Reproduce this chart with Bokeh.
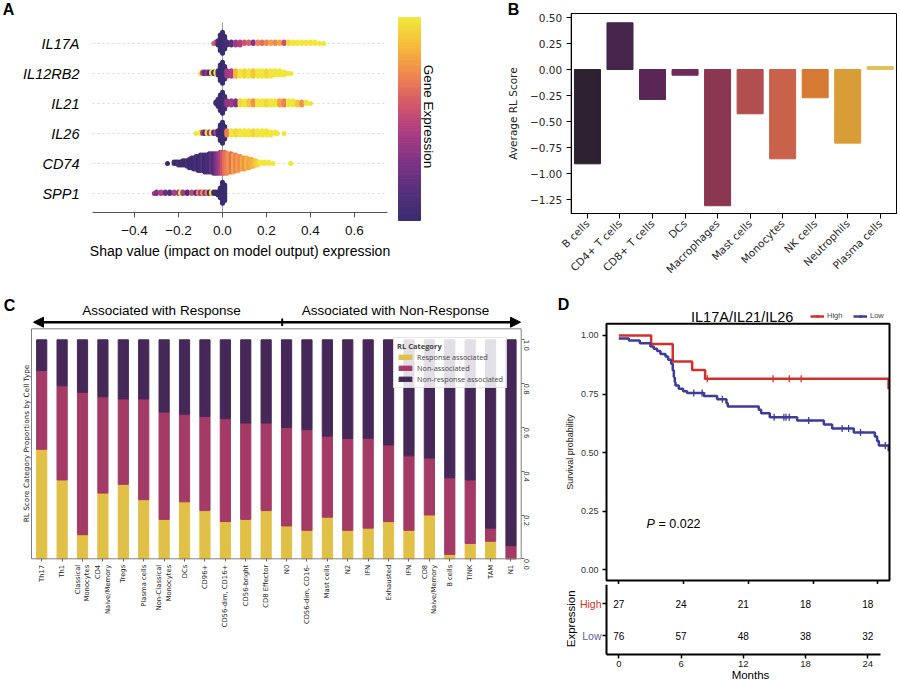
import math
from bokeh.plotting import figure
from bokeh.models import (FixedTicker, LinearAxis, Label, Arrow, NormalHead,
                          Legend, LegendItem, ColumnDataSource, Range1d, LinearColorMapper)
from bokeh.layouts import row, column
from bokeh.embed import file_html
from bokeh.resources import INLINE
from bokeh.core.properties import value

HELV = "Liberation Sans"
DJV = "DejaVu Sans"
SANS2 = "Open Sans"

# ================= Panel A data (SHAP beeswarm) =================
genes = ["IL17A", "IL12RB2", "IL21", "IL26", "CD74", "SPP1"]
shap_ticks = [-0.4, -0.2, 0.0, 0.2, 0.4, 0.6]
shap_tick_labels = ["\u22120.4", "\u22120.2", "0.0", "0.2", "0.4", "0.6"]

il17a_shap = [-0.04, -0.03, -0.02, -0.01, 0.00, 0.01, 0.02, 0.04, 0.06, 0.08, 0.10, 0.12, 0.14, 0.16, 0.18,
              0.20, 0.22, 0.24, 0.26, 0.28, 0.30, 0.32, 0.34, 0.36, 0.38, 0.40, 0.42, 0.44, 0.46]
il17a_count = [1, 2, 4, 12, 16, 10, 3, 3, 3, 3, 2, 2, 2, 2, 2, 2, 2, 2, 2, 2, 2, 2, 2, 2, 2, 2, 2, 1, 1]
il17a_expr = [0.6, 0.55, 0.05, 0.0, 0.0, 0.02, 0.08, 0.15, 0.4, 0.45, 0.55, 0.6, 0.3, 0.7, 0.65,
              0.7, 0.78, 0.72, 0.8, 0.55, 0.95, 1.0, 1.0, 1.0, 1.0, 1.0, 1.0, 1.0, 1.0]

il12rb2_shap = [-0.10, -0.09, -0.08, -0.07, -0.06, -0.05, -0.04, -0.03, -0.02, -0.01, 0.00, 0.01,
                0.02, 0.04, 0.06, 0.08, 0.10, 0.12, 0.14, 0.16, 0.18, 0.20, 0.22, 0.24, 0.26, 0.28, 0.295, 0.31]
il12rb2_count = [1, 2, 2, 2, 2, 2, 2, 2, 4, 12, 16, 10,
                 5, 5, 5, 5, 5, 5, 5, 5, 5, 5, 5, 4, 4, 3, 1, 1]
il12rb2_expr = [1.0, 0.45, 0.1, 0.4, 0.05, 0.95, 0.1, 1.0, 0.05, 0.0, 0.0, 0.02,
                0.4, 0.45, 0.85, 1.0, 0.95, 1.0, 0.9, 1.0, 1.0, 0.95, 1.0, 1.0, 1.0, 1.0, 1.0, 1.0]

il21_shap = [-0.03, -0.02, -0.01, 0.00, 0.01, 0.02, 0.04, 0.06, 0.08, 0.10, 0.12, 0.14, 0.16, 0.18,
             0.20, 0.22, 0.24, 0.26, 0.28, 0.30, 0.32, 0.34, 0.36, 0.38, 0.40]
il21_count = [2, 6, 12, 16, 10, 4, 4, 4, 4, 4, 4, 4, 4, 4, 4, 4, 4, 4, 4, 4, 4, 3, 3, 2, 1]
il21_expr = [0.05, 0.0, 0.0, 0.0, 0.05, 0.35, 0.4, 0.3, 0.95, 1.0, 0.9, 0.75, 1.0, 1.0,
             0.95, 1.0, 1.0, 0.8, 0.7, 1.0, 1.0, 0.9, 0.75, 1.0, 1.0]

il26_shap = [-0.12, -0.10, -0.09, -0.08, -0.07, -0.06, -0.05, -0.04, -0.03, -0.02, -0.01, 0.00, 0.01,
             0.02, 0.04, 0.06, 0.08, 0.10, 0.12, 0.14, 0.16, 0.18, 0.20, 0.22, 0.24, 0.25, 0.28]
il26_count = [1, 2, 2, 2, 2, 2, 2, 2, 2, 4, 12, 16, 10,
              4, 4, 4, 4, 4, 4, 4, 4, 4, 4, 3, 2, 1, 1]
il26_expr = [1.0, 1.0, 0.45, 0.1, 1.0, 0.4, 1.0, 0.1, 0.45, 0.05, 0.0, 0.0, 0.02,
             0.7, 1.0, 0.95, 1.0, 1.0, 1.0, 0.95, 1.0, 1.0, 1.0, 1.0, 1.0, 1.0, 1.0]

cd74_shap = [-0.25, -0.22, -0.21, -0.20, -0.19, -0.18, -0.17, -0.16, -0.15, -0.14, -0.13, -0.12, -0.11,
             -0.10, -0.09, -0.08, -0.07, -0.06, -0.05, -0.04, -0.03, -0.02, -0.01, 0.00, 0.01, 0.02,
             0.03, 0.04, 0.05, 0.06, 0.07, 0.08, 0.09, 0.10, 0.11, 0.12, 0.13, 0.14, 0.15, 0.16, 0.17,
             0.19, 0.21, 0.23, 0.31]
cd74_count = [1, 2, 2, 3, 3, 4, 4, 5, 7, 8, 9, 10, 11, 12, 12, 13, 13, 14, 14, 15, 15, 15, 16,
              16, 16, 15, 14, 14, 13, 12, 11, 10, 9, 9, 8, 7, 6, 5, 4, 3, 2, 2, 2, 1, 1]
cd74_expr = [0.0, 0.05, 0.0, 0.1, 0.0, 0.05, 0.0, 0.1, 0.0, 0.05, 0.0, 0.1, 0.0, 0.05, 0.15, 0.0,
             0.1, 0.05, 0.2, 0.1, 0.25, 0.35, 0.45, 0.55, 0.65, 0.7, 0.75, 0.65, 0.8, 0.7, 0.78,
             0.72, 0.82, 0.75, 0.85, 0.8, 0.82, 0.85, 0.9, 0.95, 1.0, 1.0, 1.0, 1.0, 1.0]

spp1_shap = [-0.31, -0.30, -0.28, -0.26, -0.24, -0.22, -0.20, -0.19, -0.18, -0.16, -0.14, -0.12, -0.11,
             -0.10, -0.09, -0.08, -0.07, -0.06, -0.05, -0.04, -0.03, -0.02, -0.01, 0.00, 0.01]
spp1_count = [1, 2, 2, 2, 2, 2, 2, 2, 2, 2, 2, 2, 2, 2, 2, 2, 2, 2, 2, 2, 2, 3, 8, 16, 12]
spp1_expr = [0.4, 0.3, 0.45, 0.2, 0.1, 0.45, 0.35, 1.0, 0.4, 0.1, 0.5, 0.1, 0.7, 0.4, 0.75,
             0.3, 0.7, 0.1, 1.0, 0.05, 0.0, 0.0, 0.0, 0.0, 0.0]

# ================= Panel B data =================
b_cells = ["B cells", "CD4+ T cells", "CD8+ T cells", "DCs", "Macrophages", "Mast cells",
           "Monocytes", "NK cells", "Neutrophils", "Plasma cells"]
b_scores = [-0.907, 0.449, -0.288, -0.055, -1.31, -0.426, -0.859, -0.272, -0.708, 0.029]
b_colors = ["#2e2131", "#44264b", "#5a2655", "#6e2a5c", "#8c3752", "#b14f50",
            "#c8624a", "#d67a33", "#d99d37", "#dcc45b"]
b_ticks = [0.5, 0.25, 0.0, -0.25, -0.5, -0.75, -1.0, -1.25]
b_tick_labels = ["0.50", "0.25", "0.00", "\u22120.25", "\u22120.50", "\u22120.75", "\u22121.00", "\u22121.25"]

# ================= Panel C data =================
c_labels = ["Th17", "Th1", "Classical\nMonocytes", "CD4\nNaive/Memory", "Tregs", "Plasma cells",
            "Non-Classical\nMonocytes", "DCs", "CD96+", "CD56-dim, CD16+", "CD56-bright",
            "CD8 Effector", "N0", "CD56-dim, CD16-", "Mast cells", "N2", "IFN", "Exhausted", "IFN",
            "CD8\nNaive/Memory", "B cells", "TINK", "TAM", "N1"]
c_response = [0.50, 0.36, 0.11, 0.30, 0.34, 0.27, 0.18, 0.26, 0.22, 0.17, 0.18, 0.22,
              0.15, 0.13, 0.19, 0.13, 0.14, 0.17, 0.13, 0.20, 0.02, 0.07, 0.08, 0.00]
c_nonassoc = [0.36, 0.43, 0.65, 0.44, 0.39, 0.46, 0.49, 0.40, 0.43, 0.47, 0.44, 0.40,
              0.45, 0.46, 0.37, 0.42, 0.41, 0.35, 0.34, 0.26, 0.35, 0.29, 0.06, 0.06]
c_nonresp = [0.14, 0.21, 0.24, 0.26, 0.27, 0.27, 0.33, 0.34, 0.35, 0.36, 0.38, 0.38,
             0.40, 0.41, 0.44, 0.45, 0.45, 0.48, 0.53, 0.54, 0.63, 0.64, 0.86, 0.94]
c_categories = ["Response associated", "Non-associated", "Non-response associated"]
c_colors = ["#e0c046", "#a43a66", "#452858"]
c_ticks = [0.0, 0.2, 0.4, 0.6, 0.8, 1.0]
c_tick_labels = ["0.0", "0.2", "0.4", "0.6", "0.8", "1.0"]

# ================= Panel D data =================
high_t = [0.0, 3.0, 5.0, 6.8, 8.0, 25.0]
high_s = [1.0, 0.963, 0.889, 0.852, 0.815, 0.770]
high_cens_t = [8.2, 14.3, 15.8, 16.9]
high_cens_s = [0.815, 0.815, 0.815, 0.815]
low_t = [0.0, 0.93, 1.95, 2.93, 3.24, 3.55, 3.86, 4.33, 4.57, 4.85, 5.0, 5.1, 5.19, 5.25, 5.56, 5.96,
         6.33, 7.88, 9.11, 9.98, 10.1, 12.97, 13.19, 13.99, 16.53, 19.0, 19.77, 21.78, 23.73, 23.94,
         24.1, 25.02]
low_s = [0.987, 0.978, 0.967, 0.953, 0.943, 0.933, 0.921, 0.910, 0.896, 0.879, 0.851, 0.822, 0.801,
         0.786, 0.772, 0.762, 0.754, 0.742, 0.728, 0.711, 0.697, 0.683, 0.668, 0.651, 0.637, 0.620,
         0.603, 0.586, 0.569, 0.550, 0.530, 0.506]
low_cens_t = [6.95, 7.72, 9.6, 14.4, 15.3, 15.5, 15.8, 17.6, 20.7, 21.3, 22.4, 24.7]
low_cens_s = [0.754, 0.754, 0.728, 0.651, 0.651, 0.651, 0.651, 0.637, 0.603, 0.603, 0.586, 0.530]
surv_ticks = [0.0, 0.25, 0.5, 0.75, 1.0]
surv_tick_labels = ["0.00", "0.25", "0.50", "0.75", "1.00"]
risk_months = [0, 6, 12, 18, 24]
risk_high = [27, 24, 21, 18, 18]
risk_low = [76, 57, 48, 38, 32]
p_value_text = "= 0.022"

RED = "#d2302c"
BLUE = "#3e3c98"


# ---------------- helpers ----------------
def hex2rgb(h):
    return tuple(int(h[i:i + 2], 16) for i in (1, 3, 5))


def make_palette(anchors, n=256):
    out = []
    for i in range(n):
        t = i / (n - 1) * (len(anchors) - 1)
        k = min(int(t), len(anchors) - 2)
        f = t - k
        a, b = hex2rgb(anchors[k]), hex2rgb(anchors[k + 1])
        out.append("#%02x%02x%02x" % tuple(round(a[j] + (b[j] - a[j]) * f) for j in range(3)))
    return out


class Geo:
    """Pixel <-> data mapping for a figure whose frame covers the whole canvas (local px)."""
    def __init__(self, w, h, x0px, xscale, y0px, yscale):
        self.w, self.h = w, h
        self.x0px, self.xs, self.y0px, self.ys = x0px, xscale, y0px, yscale

    def X(self, px):
        return (px - self.x0px) / self.xs

    def Y(self, py):
        return (self.y0px - py) / self.ys

    def fig(self):
        p = figure(width=self.w, height=self.h, output_backend="svg", toolbar_location=None,
                   x_range=Range1d(self.X(0), self.X(self.w)),
                   y_range=Range1d(self.Y(self.h), self.Y(0)),
                   x_axis_location=None, y_axis_location=None, min_border=0)
        p.outline_line_color = None
        p.background_fill_color = "white"
        p.border_fill_color = "white"
        for g in p.grid:
            g.visible = False
        return p


def style_axis(ax, font, size, color="#222222", standoff=4, tick_out=4, tick_color="black",
               tick_width=1, line_color=None, line_width=1):
    ax.major_label_text_font = font
    ax.major_label_text_font_size = size
    ax.major_label_text_color = color
    ax.major_label_standoff = standoff
    ax.major_tick_out = tick_out
    ax.major_tick_in = 0
    ax.major_tick_line_color = tick_color
    ax.major_tick_line_width = tick_width
    ax.minor_tick_line_color = None
    ax.axis_line_color = line_color
    ax.axis_line_width = line_width


def style_axis_label(ax, text, font, size, standoff, color="#222222"):
    ax.axis_label = text
    ax.axis_label_text_font = font
    ax.axis_label_text_font_size = size
    ax.axis_label_text_font_style = "normal"
    ax.axis_label_text_color = color
    ax.axis_label_standoff = standoff


def label(p, x, y, text, size, font=HELV, style="normal", color="black", align="center",
          baseline="middle", angle=0.0):
    p.add_layout(Label(x=x, y=y, text=text, text_font=font, text_font_size=size,
                       text_font_style=style, text_color=color, text_align=align,
                       text_baseline=baseline, angle=angle))


# ================= Panel A =================
gA = Geo(450, 290, 222, 220, 193, 30)
pA = gA.fig()
rows_y = [5, 4, 3, 2, 1, 0]
pA.segment(x0=[gA.X(92)] * 6, y0=rows_y, x1=[gA.X(387)] * 6, y1=rows_y, line_color="#d9d9d9",
           line_width=1, line_dash="2 3")
pA.segment(x0=[0.0], y0=[gA.Y(212)], x1=[0.0], y1=[gA.Y(22)], line_color="#999999", line_width=1)

pal = make_palette(["#3a2c6e", "#55307e", "#7e3486", "#aa3c82", "#d2566c", "#ee8550",
                    "#f6b83c", "#f1e63c"])
mapper = LinearColorMapper(palette=pal, low=0.0, high=1.0)
gene_data = [(il17a_shap, il17a_count, il17a_expr), (il12rb2_shap, il12rb2_count, il12rb2_expr),
             (il21_shap, il21_count, il21_expr), (il26_shap, il26_count, il26_expr),
             (cd74_shap, cd74_count, cd74_expr), (spp1_shap, spp1_count, spp1_expr)]
STEP = 1.4 / 30.0   # swarm stacking step (1.4 px)
sx_all, sy_all, se_all = [], [], []
for yrow, (sx, cnt, ex) in zip(rows_y, gene_data):
    used = {}
    for xv, c, e in zip(sx, cnt, ex):
        for _ in range(c):
            j = used.get(xv, 0)
            used[xv] = j + 1
            k = (j + 1) // 2
            off = k * STEP if j % 2 == 1 else -k * STEP
            sx_all.append(xv)
            sy_all.append(yrow + off)
            se_all.append(e)
srcA = ColumnDataSource(dict(x=sx_all, y=sy_all, e=se_all))
pA.scatter("x", "y", source=srcA, size=5, fill_color={"field": "e", "transform": mapper},
           line_color=None)

ncb = 120
cb_lo, cb_hi = gA.Y(220), gA.Y(17)
cb_b = [cb_lo + (cb_hi - cb_lo) * i / ncb for i in range(ncb)]
cb_t = [cb_lo + (cb_hi - cb_lo) * (i + 1) / ncb for i in range(ncb)]
cb_c = [pal[int(round(i * 255 / (ncb - 1)))] for i in range(ncb)]
pA.quad(left=gA.X(398), right=gA.X(420), bottom=cb_b, top=cb_t, fill_color=cb_c, line_color=cb_c)

xa = LinearAxis(fixed_location=gA.Y(212), bounds=(gA.X(92), gA.X(387)),
                ticker=FixedTicker(ticks=shap_ticks))
xa.major_label_overrides = dict(zip(shap_ticks, shap_tick_labels))
style_axis(xa, HELV, "13.5px", color="#111111", standoff=8, tick_out=5, tick_color="#555555",
           line_color="#555555")
style_axis_label(xa, "Shap value (impact on model output) expression", HELV, "14px", 5, color="black")
pA.add_layout(xa, "below")

ya = LinearAxis(fixed_location=gA.X(92), ticker=FixedTicker(ticks=rows_y))
ya.major_label_overrides = dict(zip(rows_y, genes))
style_axis(ya, HELV, "14.5px", color="black", standoff=13, tick_out=0, tick_color=None)
ya.major_label_text_font_style = "italic"
pA.add_layout(ya, "left")

label(pA, gA.X(428), gA.Y(116), "Gene Expression", "13.5px", angle=-math.pi / 2)
label(pA, gA.X(8), gA.Y(9), "A", "16px", style="bold")

# ================= Panel B =================
gB = Geo(450, 290, 120.7, 32.53, 69, 104)
pB = gB.fig()
b_x = [i + 0.5 for i in range(len(b_cells))]
pB.vbar(x=b_x, top=b_scores, bottom=0, width=0.8, fill_color=b_colors, line_color=b_colors)
b_left, b_right, b_bottom, b_top = 0, len(b_cells), gB.Y(213), gB.Y(13)
pB.quad(left=[b_left], right=[b_right], bottom=[b_bottom], top=[b_top], fill_color=None,
        line_color="black", line_width=1)
yb = LinearAxis(fixed_location=b_left, bounds=(b_bottom, b_top), ticker=FixedTicker(ticks=b_ticks))
yb.major_label_overrides = dict(zip(b_ticks, b_tick_labels))
style_axis(yb, DJV, "10.5px", color="#262626", standoff=4, tick_out=5, line_color="black")
style_axis_label(yb, "Average RL Score", DJV, "10.5px", 8, color="#262626")
pB.add_layout(yb, "left")
xb = LinearAxis(fixed_location=b_bottom, bounds=(b_left, b_right), ticker=FixedTicker(ticks=b_x))
xb.major_label_overrides = dict(zip(b_x, b_cells))
style_axis(xb, DJV, "10.5px", color="#262626", standoff=3, tick_out=5, line_color="black")
xb.major_label_orientation = math.pi / 4
pB.add_layout(xb, "below")
label(pB, gB.X(63), gB.Y(9), "B", "16px", style="bold")

# ================= Panel C =================
gC = Geo(540, 392, 31, 20.404, 268.3, 219)
pC = gC.fig()
c_x = [i + 0.5 for i in range(len(c_labels))]
srcC = ColumnDataSource(dict(x=c_x, resp=c_response, nonassoc=c_nonassoc, nonresp=c_nonresp))
pC.vbar_stack(["resp", "nonassoc", "nonresp"], x="x", width=0.5, color=c_colors, source=srcC,
              legend_label=c_categories)
c_left, c_right, c_bottom, c_top = 0, len(c_labels), 0.0, gC.Y(38.3)
pC.quad(left=[c_left], right=[c_right], bottom=[c_bottom], top=[c_top], fill_color=None,
        line_color="#808080", line_width=1)

xc = LinearAxis(fixed_location=c_bottom, bounds=(c_left, c_right), ticker=FixedTicker(ticks=c_x))
xc.major_label_overrides = dict(zip(c_x, c_labels))
style_axis(xc, DJV, "6.8px", color="#222222", standoff=3, tick_out=3, tick_color="#666666")
xc.major_label_orientation = math.pi / 2
pC.add_layout(xc, "below")

yc = LinearAxis(fixed_location=c_right, bounds=(c_bottom, c_top), ticker=FixedTicker(ticks=c_ticks))
yc.major_label_overrides = dict(zip(c_ticks, c_tick_labels))
style_axis(yc, DJV, "7px", color="#333333", standoff=3, tick_out=3, tick_color="#666666")
yc.major_label_orientation = -math.pi / 2
pC.add_layout(yc, "right")

lc = LinearAxis(fixed_location=c_left, bounds=(c_bottom, c_top), ticker=FixedTicker(ticks=[]))
style_axis(lc, DJV, "7px", tick_out=0, tick_color=None)
style_axis_label(lc, "RL Score Category Proportions by Cell Type", DJV, "7.3px", 1)
pC.add_layout(lc, "left")

leg = pC.legend[0]
leg.title = "RL Category"
leg.title_text_font = SANS2
leg.title_text_font_size = "7.5px"
leg.title_text_font_style = "bold"
leg.title_standoff = 1
leg.label_text_font = SANS2
leg.label_text_font_size = "7.3px"
leg.label_height = 8
leg.glyph_height = 6
leg.glyph_width = 16
leg.label_standoff = 4
leg.spacing = 1
leg.padding = 3
leg.margin = 0
leg.border_line_color = "#cccccc"
leg.background_fill_alpha = 0.85
leg.location = (393, 392 - 98)

arrow_y = gC.Y(31.7)
mid_x = gC.X(281.7)
pC.add_layout(Arrow(end=NormalHead(size=10, fill_color="black", line_color="black"),
                    x_start=mid_x, y_start=arrow_y, x_end=gC.X(33), y_end=arrow_y,
                    line_width=2.5, line_color="black"))
pC.add_layout(Arrow(end=NormalHead(size=10, fill_color="black", line_color="black"),
                    x_start=mid_x, y_start=arrow_y, x_end=gC.X(520), y_end=arrow_y,
                    line_width=2.5, line_color="black"))
pC.add_layout(Arrow(end=None, x_start=mid_x, y_start=gC.Y(28), x_end=mid_x, y_end=gC.Y(35.5),
                    line_width=2, line_color="black"))
label(pC, gC.X(161), gC.Y(20), "Associated with Response", "13.5px")
label(pC, gC.X(395), gC.Y(20), "Associated with Non-Response", "13.5px")
label(pC, gC.X(9), gC.Y(15), "C", "16px", style="bold")

# ================= Panel D (survival curve) =================
gD1 = Geo(360, 294, 78.3, 10.79, 279.3, 234.4)
pD1 = gD1.fig()
d_left, d_right, d_bottom, d_top = gD1.X(66), gD1.X(349), gD1.Y(290), gD1.Y(33.3)
r_hl = pD1.step(x=high_t, y=high_s, mode="after", line_color=RED, line_width=2.5)
r_ll = pD1.step(x=low_t, y=low_s, mode="after", line_color=BLUE, line_width=2.5)
r_hc = pD1.scatter(x=high_cens_t, y=high_cens_s, marker="cross", size=7, line_color=RED, line_width=1.3)
r_lc = pD1.scatter(x=low_cens_t, y=low_cens_s, marker="cross", size=7, line_color=BLUE, line_width=1.3)
pD1.quad(left=[d_left], right=[d_right], bottom=[d_bottom], top=[d_top], fill_color=None,
         line_color="black", line_width=2)

yd = LinearAxis(fixed_location=d_left, bounds=(d_bottom, d_top), ticker=FixedTicker(ticks=surv_ticks))
yd.major_label_overrides = dict(zip(surv_ticks, surv_tick_labels))
style_axis(yd, HELV, "9px", color="#333333", standoff=4, tick_out=4, tick_width=1.5)
style_axis_label(yd, "Survival probability", HELV, "9px", 3)
pD1.add_layout(yd, "left")
xd = LinearAxis(fixed_location=d_bottom, bounds=(d_left, d_right), ticker=FixedTicker(ticks=risk_months))
style_axis(xd, HELV, "9px", standoff=0, tick_out=4, tick_width=1.5)
xd.major_label_text_color = None
pD1.add_layout(xd, "below")

legD = Legend(items=[LegendItem(label="High", renderers=[r_hl, r_hc]),
                     LegendItem(label="Low", renderers=[r_ll, r_lc])],
              location=(810 - 540, 294 - 30), orientation="horizontal")
legD.label_text_font = HELV
legD.label_text_font_size = "7.5px"
legD.label_height = 8
legD.glyph_height = 8
legD.glyph_width = 14
legD.label_standoff = 3
legD.spacing = 6
legD.padding = 0
legD.margin = 0
legD.border_line_color = None
legD.background_fill_alpha = 0
pD1.add_layout(legD)

label(pD1, gD1.X(201.7), gD1.Y(26), "IL17A/IL21/IL26", "14.5px")
label(pD1, gD1.X(23), gD1.Y(14), "D", "16px", style="bold")
label(pD1, gD1.X(106), gD1.Y(233.3), "P", "12.5px", style="italic", align="left")
label(pD1, gD1.X(118), gD1.Y(233.3), p_value_text, "12.5px", align="left")

# ================= Panel D (risk table) =================
# rows: High = 2 at local y 19.3 px, Low = 1 at local y 51 px
gD2 = Geo(360, 98, 78.3, 10.375, 82.7, 31.7)
pD2 = gD2.fig()
rowsD = [2, 1]
pD2.text(x=risk_months + risk_months, y=[rowsD[0]] * len(risk_high) + [rowsD[1]] * len(risk_low),
         text=[str(v) for v in risk_high + risk_low], text_font=value(HELV),
         text_font_size="10px", text_align="center", text_baseline="middle", text_color="black")
t_left, t_right, t_bottom, t_top = gD2.X(66), gD2.X(340), gD2.Y(70), gD2.Y(0)
y2 = LinearAxis(fixed_location=t_left, bounds=(t_bottom, t_top), ticker=FixedTicker(ticks=rowsD))
style_axis(y2, HELV, "10px", standoff=0, tick_out=4, tick_width=1.5, line_color="black", line_width=2)
y2.major_label_text_color = None
pD2.add_layout(y2, "left")
x2 = LinearAxis(fixed_location=t_bottom, bounds=(t_left, t_right), ticker=FixedTicker(ticks=risk_months))
style_axis(x2, HELV, "9.5px", color="#222222", standoff=2, tick_out=4, tick_width=1.5,
           line_color="black", line_width=2)
pD2.add_layout(x2, "below")
label(pD2, gD2.X(61), rowsD[0], "High", "10.5px", color=RED, align="right")
label(pD2, gD2.X(61), rowsD[1], "Low", "10.5px", color="#5b5ba6", align="right")
label(pD2, gD2.X(30), gD2.Y(34.3), "Expression", "11.5px", angle=math.pi / 2)
label(pD2, gD2.X(210), gD2.Y(84), "Months", "11.5px", baseline="top")

layout = column(row(pA, pB), row(pC, column(pD1, pD2)))
open("out.html", "w").write(file_html(layout, INLINE))
